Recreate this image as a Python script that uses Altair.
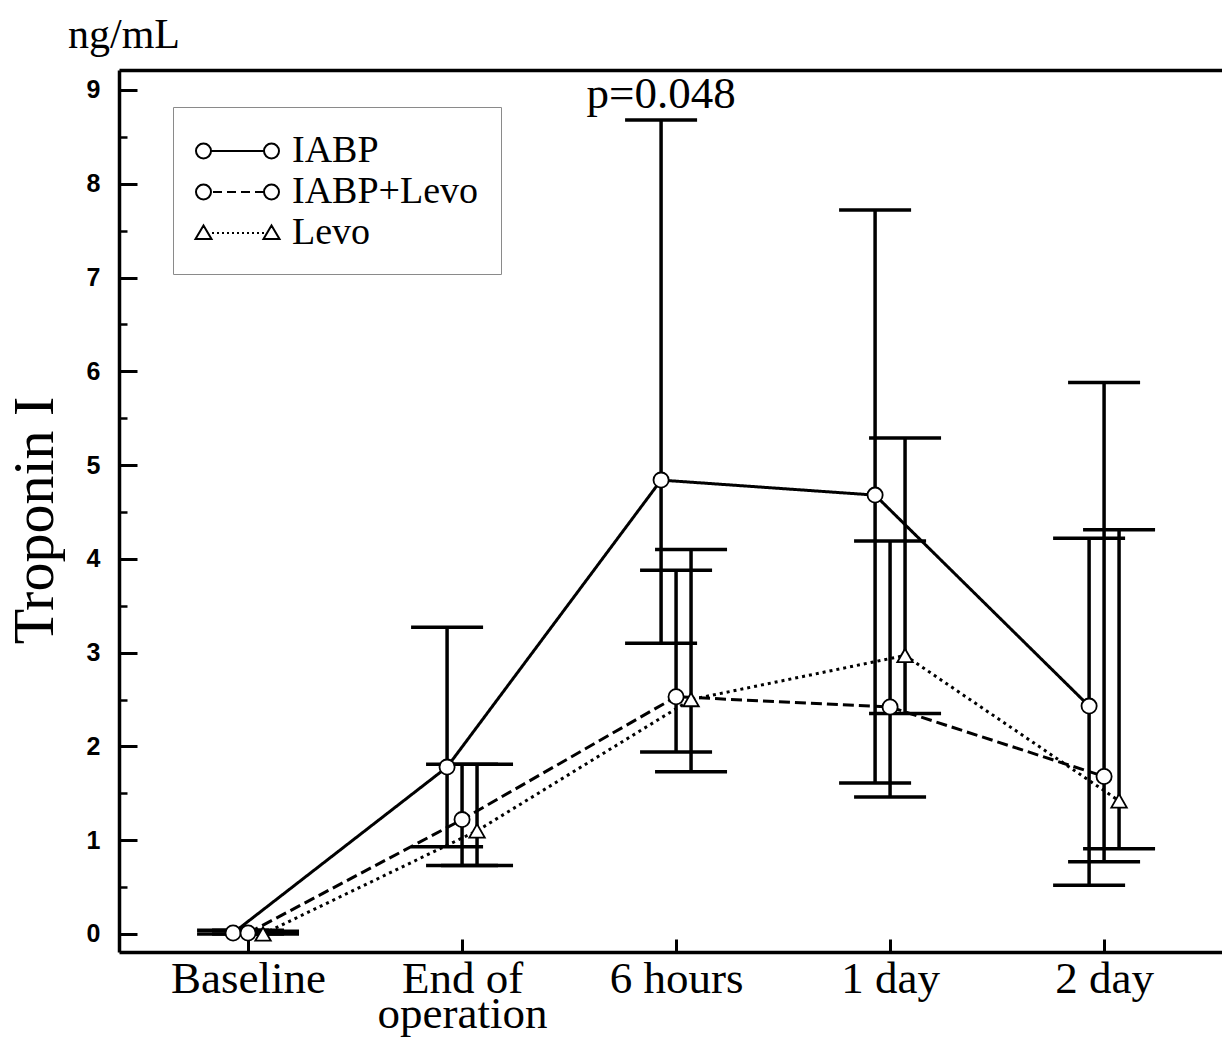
import json
import altair as alt
import pandas as pd

# ---------------- data ----------------
times = ["Baseline", "End of\noperation", "6 hours", "1 day", "2 day"]
series = ["IABP", "IABP+Levo", "Levo"]

iabp_mean = [0.01, 1.78, 4.84, 4.68, 2.43]
iabp_hi = [0.04, 3.27, 8.68, 7.72, 4.22]
iabp_lo = [0.00, 0.93, 3.10, 1.61, 0.52]

combo_mean = [0.01, 1.22, 2.53, 2.42, 1.68]
combo_hi = [0.04, 1.81, 3.88, 4.19, 5.88]
combo_lo = [0.00, 0.73, 1.94, 1.46, 0.77]

levo_mean = [0.00, 1.10, 2.50, 2.97, 1.42]
levo_hi = [0.03, 1.81, 4.10, 5.29, 4.31]
levo_lo = [0.00, 0.73, 1.73, 2.35, 0.91]

annot_time = [2]
annot_series = ["IABP"]
annot_text = ["p=0.048"]

y_ticks = [0, 1, 2, 3, 4, 5, 6, 7, 8, 9]
y_minor = [0.5, 1.5, 2.5, 3.5, 4.5, 5.5, 6.5, 7.5, 8.5]

# ---------------- table ----------------
groups = {
    "IABP": (iabp_mean, iabp_lo, iabp_hi),
    "IABP+Levo": (combo_mean, combo_lo, combo_hi),
    "Levo": (levo_mean, levo_lo, levo_hi),
}
rows = []
for s in series:
    m, lo, hi = groups[s]
    for i, t in enumerate(times):
        rows.append({"series": s, "t": i, "time": t, "mean": m[i], "lo": lo[i], "hi": hi[i]})
df = pd.DataFrame(rows)

ann_rows = []
for ti, s, txt in zip(annot_time, annot_series, annot_text):
    ann_rows.append({"series": s, "t": ti, "hi": groups[s][2][ti], "label": txt})
ann = pd.DataFrame(ann_rows)

# ---------------- layout ----------------
W, H = 1103, 882
SHIFT = 0.07
xcalc = f"datum.t + (datum.series == 'IABP' ? {-SHIFT} : (datum.series == 'Levo' ? {SHIFT} : 0))"

xscale = alt.Scale(domain=[-0.603, 4.551], nice=False, zero=False)
yscale = alt.Scale(domain=[-0.192, 9.213], nice=False, zero=False)

label_expr = " : ".join(
    f"datum.value == {i} ? {json.dumps(t.split(chr(10)) if chr(10) in t else t)}" for i, t in enumerate(times)
) + " : ''"

SERIF = "Liberation Serif"
SANS = "Liberation Sans"

x_bottom = alt.Axis(orient="bottom", values=list(range(len(times))), labelExpr=label_expr, ticks=False,
                    domain=True, domainWidth=3.5, domainColor="black", labelFont=SERIF, labelFontSize=45,
                    labelColor="black", labelPadding=4, labelLineHeight=35, labelFlush=False,
                    labelOverlap=False, labelBound=False, grid=False, title=None)
y_left = alt.Axis(orient="left", values=y_ticks, ticks=False, domain=True, domainWidth=3.5, domainColor="black",
                  labelFont=SANS, labelFontWeight="bold", labelFontSize=25, labelColor="black", labelPadding=19,
                  grid=False, title="Troponin I", titleFont=SERIF, titleFontSize=58, titleFontWeight="normal",
                  titleColor="black", titleX=-67, titleY=450, titleBaseline="alphabetic", labelFlush=False)
x_topframe = alt.Axis(orient="top", ticks=False, labels=False, domain=True, domainWidth=3.5,
                      domainColor="black", grid=False, title=None)
y_major_in = alt.Axis(orient="right", offset=-W, values=y_ticks, tickSize=18, tickWidth=3, tickColor="black",
                      labels=False, domain=False, grid=False, title=None)
x_ticks_in = alt.Axis(orient="top", offset=-H, values=list(range(len(times))), tickSize=13, tickWidth=3,
                      tickColor="black", labels=False, domain=False, grid=False, title=None)
y_minor_in = alt.Axis(orient="right", offset=-W, values=y_minor, tickSize=8, tickWidth=2.5, tickColor="black",
                      labels=False, domain=False, grid=False, title=None)

base = alt.Chart(df).transform_calculate(xp=xcalc)

dash_styles = {"IABP": [1, 0], "IABP+Levo": [11, 5], "Levo": [3, 4]}
line_layers = []
for k, s in enumerate(series):
    line_layers.append(
        base.transform_filter(alt.datum.series == s).mark_line(
            color="black", strokeWidth=3, strokeDash=dash_styles[s]
        ).encode(
            x=alt.X("xp:Q", scale=xscale, axis=x_bottom if k == 0 else None),
            y=alt.Y("mean:Q", scale=yscale, axis=y_left if k == 0 else None),
            order="t:Q",
        )
    )

rules = base.mark_rule(color="black", strokeWidth=3.5).encode(
    x=alt.X("xp:Q", scale=xscale, axis=x_topframe),
    y=alt.Y("lo:Q", scale=yscale, axis=y_major_in),
    y2="hi:Q",
)

caps_hi = base.mark_tick(color="black", orient="horizontal", size=72, thickness=3.5, opacity=1).encode(
    x=alt.X("xp:Q", scale=xscale, axis=x_ticks_in),
    y=alt.Y("hi:Q", scale=yscale, axis=y_minor_in),
)
caps_lo = base.mark_tick(color="black", orient="horizontal", size=72, thickness=3.5, opacity=1).encode(
    x=alt.X("xp:Q", scale=xscale, axis=None),
    y=alt.Y("lo:Q", scale=yscale, axis=None),
)

circles = base.transform_filter("datum.series != 'Levo'").mark_point(
    shape="circle", size=230, filled=True, fill="white", stroke="black", strokeWidth=1.8, opacity=1
).encode(
    x=alt.X("xp:Q", scale=xscale, axis=None),
    y=alt.Y("mean:Q", scale=yscale, axis=None),
)
triangles = base.transform_filter("datum.series == 'Levo'").mark_point(
    shape="triangle-up", size=240, filled=True, fill="white", stroke="black", strokeWidth=1.8, opacity=1
).encode(
    x=alt.X("xp:Q", scale=xscale, axis=None),
    y=alt.Y("mean:Q", scale=yscale, axis=None),
)

ptext = alt.Chart(ann).transform_calculate(xp=xcalc).mark_text(
    font=SERIF, fontSize=45, color="black", align="center", baseline="alphabetic", dy=-12
).encode(
    x=alt.X("xp:Q", scale=xscale, axis=None),
    y=alt.Y("hi:Q", scale=yscale, axis=None),
    text="label:N",
)

# legend symbols (custom paths: marker - line - marker), defined in pixels then scaled to symbol units
SYM_R = 21.0           # half of symbol box (px)
LEFT, RIGHT = -21.0, 62.0
MR = 7.5               # marker radius (px)

def u(v):
    return f"{v / SYM_R:.4f}"

def circ(cx):
    return (f"M {u(cx-MR)} 0 A {u(MR)} {u(MR)} 0 1 0 {u(cx+MR)} 0 "
            f"A {u(MR)} {u(MR)} 0 1 0 {u(cx-MR)} 0 Z")

def tri(cx):
    return f"M {u(cx-8)} {u(6)} L {u(cx)} {u(-7.5)} L {u(cx+8)} {u(6)} Z"

cl, cr = LEFT + MR, RIGHT - MR
seg0, seg1 = cl + MR, cr - MR
p_solid = f"{circ(cl)} M {u(seg0)} 0 L {u(seg1)} 0 {circ(cr)}"
dash_parts = []
a = seg0 + 2
while a + 9 <= seg1:
    dash_parts.append(f"M {u(a)} 0 L {u(a+9)} 0")
    a += 14
p_dash = f"{circ(cl)} {' '.join(dash_parts)} {circ(cr)}"
dot_parts = []
a = seg0 + 1
while a + 2 <= seg1:
    dot_parts.append(f"M {u(a)} 0 L {u(a+2)} 0")
    a += 5
p_dot = f"{tri(cl)} {' '.join(dot_parts)} {tri(cr)}"

legend_layer = base.mark_point(filled=False, opacity=0, color="black").encode(
    x=alt.X("xp:Q", scale=xscale, axis=None),
    y=alt.Y("mean:Q", scale=yscale, axis=None),
    shape=alt.Shape("series:N", scale=alt.Scale(domain=series, range=[p_solid, p_dash, p_dot]),
                    legend=alt.Legend(orient="none", legendX=54, legendY=37, title=None,
                                      labelFont=SERIF, labelFontSize=38, labelColor="black",
                                      symbolSize=(2 * SYM_R) ** 2, symbolFillColor="white",
                                      symbolStrokeColor="black", symbolStrokeWidth=2, symbolOpacity=1,
                                      labelOffset=53, strokeColor="#8a8a8a", fillColor="white",
                                      padding=22, rowPadding=0, labelLimit=400)),
)

chart = alt.layer(*line_layers, rules, caps_hi, caps_lo, circles, triangles, ptext, legend_layer).resolve_axis(
    x="independent", y="independent"
).properties(
    width=W, height=H, autosize=alt.AutoSizeParams(type="none"),
    padding={"left": 119, "top": 70, "right": 0, "bottom": 92},
    background="white",
    title=alt.TitleParams("ng/mL", anchor="start", frame="group", dx=-51, dy=40, offset=20, baseline="alphabetic",
                          font=SERIF, fontSize=42, fontWeight="normal", color="black"),
).configure_view(stroke=None)

chart.save("out.html", embed_options={"renderer": "svg", "actions": False})
